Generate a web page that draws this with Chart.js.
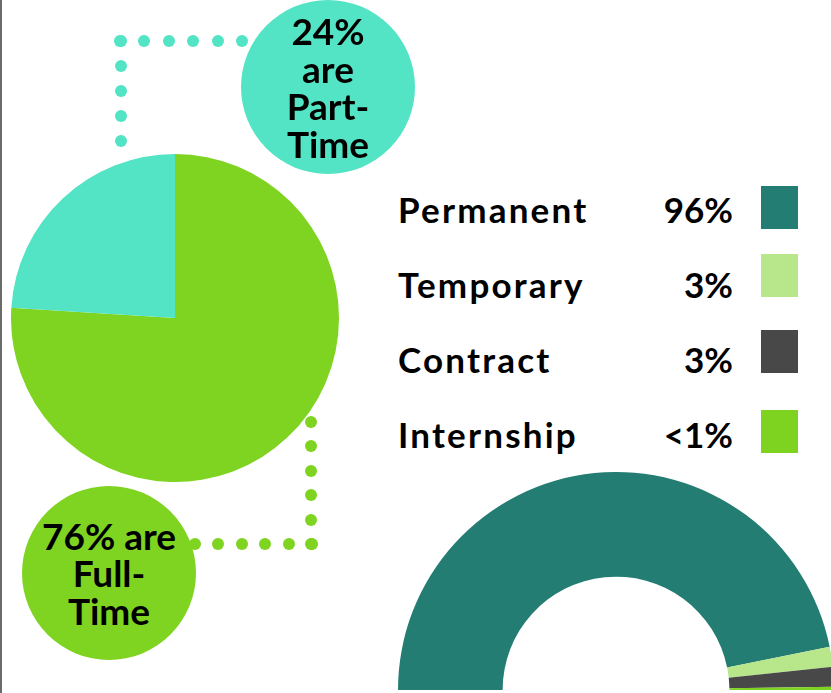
<!DOCTYPE html>
<html>
<head>
<meta charset="utf-8">
<script src="https://cdn.jsdelivr.net/npm/chart.js@4.4.0/dist/chart.umd.min.js"></script>
<style>
  html, body { margin: 0; padding: 0; background: #fff; }
  body { width: 831px; height: 693px; position: relative; overflow: hidden; font-family: Lato, "Open Sans", sans-serif; font-weight: 700; color: #000; }
  .edge { position: absolute; left: 0; top: 0; width: 2px; height: 693px; background: #6b6b6b; }
  canvas { position: absolute; }
  .bubble { position: absolute; border-radius: 50%; display: flex; flex-direction: column; align-items: center; justify-content: center; font-size: 37px; line-height: 37.5px; text-align: center; }
  .dot { position: absolute; width: 12px; height: 12px; border-radius: 50%; }
  .lg-label, .lg-value { position: absolute; font-size: 35px; line-height: 40px; white-space: nowrap; }
  .lg-label { letter-spacing: 2.2px; }
  .lg-value { text-align: right; width: 120px; }
  .lg-box { position: absolute; width: 37px; height: 43px; }
</style>
</head>
<body>
<div class="edge"></div>
<canvas id="pie" width="328" height="328" style="left:11px;top:154px;width:328px;height:328px"></canvas>
<canvas id="donut" width="436" height="218" style="left:398px;top:472px;width:436px;height:218px"></canvas>
<script>
// work type split (pie)
const workLabels = ['Full-Time', 'Part-Time'];
const workValues = [76, 24];
const workColors = ['#7fd421', '#52e4c4'];

// contract type split (half doughnut)
const contractLabels = ['Permanent', 'Temporary', 'Contract', 'Internship'];
const contractValues = [96, 3, 3, 0.5];
const contractText = ['96%', '3%', '3%', '<1%'];
const contractColors = ['#237d73', '#b8e68b', '#484848', '#7ed321'];

const common = {
  responsive: false,
  animation: false,
  plugins: { legend: { display: false }, tooltip: { enabled: false } }
};

new Chart(document.getElementById('pie'), {
  type: 'pie',
  data: {
    labels: workLabels,
    datasets: [{ data: workValues, backgroundColor: workColors, borderWidth: 0 }]
  },
  options: common
});

new Chart(document.getElementById('donut'), {
  type: 'doughnut',
  data: {
    labels: contractLabels,
    datasets: [{ data: contractValues, backgroundColor: contractColors, borderWidth: 0 }]
  },
  options: { ...common, rotation: -90, circumference: 180, cutout: '52%' }
});

// callout bubbles
function bubble(lines, cx, cy, r, color) {
  const d = document.createElement('div');
  d.className = 'bubble';
  d.style.left = (cx - r) + 'px';
  d.style.top = (cy - r) + 'px';
  d.style.width = d.style.height = (2 * r) + 'px';
  d.style.background = color;
  lines.forEach(t => {
    const s = document.createElement('div');
    s.textContent = t;
    d.appendChild(s);
  });
  document.body.appendChild(d);
}

// dotted connectors
function dots(x1, y1, x2, y2, n, color) {
  for (let i = 0; i < n; i++) {
    const d = document.createElement('div');
    d.className = 'dot';
    d.style.background = color;
    d.style.left = (x1 + (x2 - x1) * i / (n - 1) - 6) + 'px';
    d.style.top = (y1 + (y2 - y1) * i / (n - 1) - 6) + 'px';
    document.body.appendChild(d);
  }
}

dots(120, 41, 242, 41, 6, workColors[1]);
dots(121, 41, 121, 141, 5, workColors[1]);
dots(195, 544, 312, 544, 6, workColors[0]);
dots(311, 422, 311, 544, 6, workColors[0]);

bubble([workValues[1] + '%', 'are', 'Part-', 'Time'], 328, 87, 87, workColors[1]);
bubble([workValues[0] + '% are', 'Full-', 'Time'], 109, 573, 87, workColors[0]);

// legend
const textRows = [209, 284, 359, 434];
const boxTops = [186, 254, 330, 410];
contractLabels.forEach((name, i) => {
  const l = document.createElement('div');
  l.className = 'lg-label';
  l.textContent = name;
  l.style.left = '398px';
  l.style.top = (textRows[i] - 20) + 'px';
  document.body.appendChild(l);

  const v = document.createElement('div');
  v.className = 'lg-value';
  v.textContent = contractText[i];
  v.style.left = (733 - 120) + 'px';
  v.style.top = (textRows[i] - 20) + 'px';
  document.body.appendChild(v);

  const b = document.createElement('div');
  b.className = 'lg-box';
  b.style.left = '761px';
  b.style.top = boxTops[i] + 'px';
  b.style.background = contractColors[i];
  document.body.appendChild(b);
});
</script>
</body>
</html>
